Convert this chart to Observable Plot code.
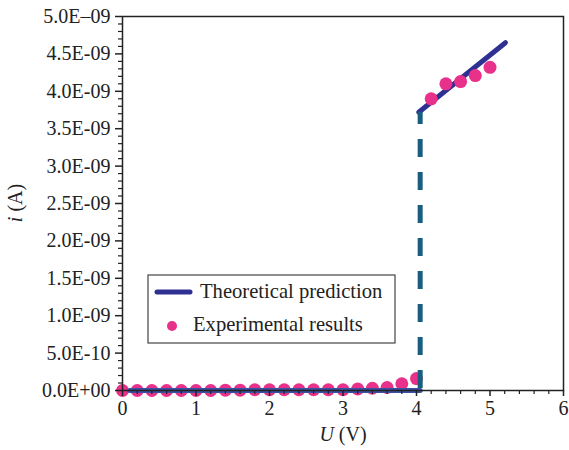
<!DOCTYPE html>
<html>
<head>
<meta charset="utf-8">
<script src="https://cdn.jsdelivr.net/npm/d3@7"></script>
<script src="https://cdn.jsdelivr.net/npm/@observablehq/plot@0.6"></script>
<style>
  html, body { margin: 0; padding: 0; background: #fff; }
  #chart { position: relative; width: 569px; height: 450px; }
</style>
</head>
<body>
<div id="chart"></div>
<script>
// Experimental results
const expU = [0, 0.2, 0.4, 0.6, 0.8, 1.0, 1.2, 1.4, 1.6, 1.8, 2.0, 2.2, 2.4, 2.6, 2.8, 3.0, 3.2, 3.4, 3.6, 3.8, 4.0, 4.2, 4.4, 4.6, 4.8, 5.0];
const expI = [0, 0, 0, 0, 0, 0, 0, 0.005e-9, 0.005e-9, 0.01e-9, 0.01e-9, 0.01e-9, 0.01e-9, 0.01e-9, 0.01e-9, 0.01e-9, 0.02e-9, 0.03e-9, 0.04e-9, 0.09e-9, 0.16e-9, 3.90e-9, 4.10e-9, 4.13e-9, 4.21e-9, 4.32e-9];

// Theoretical prediction (two branches + jump)
const theoryLowU = [0.1, 4.05];
const theoryLowI = [0, 0];
const theoryHighU = [4.03, 5.21];
const theoryHighI = [3.72e-9, 4.65e-9];
const jumpU = [4.05];
const jumpI = [0, 3.72e-9];

// Axes
const xTicks = [0, 1, 2, 3, 4, 5, 6];
const xMinor = [0.2,0.4,0.6,0.8,1.2,1.4,1.6,1.8,2.2,2.4,2.6,2.8,3.2,3.4,3.6,3.8,4.2,4.4,4.6,4.8,5.2,5.4,5.6,5.8];
const yTicks = [0, 0.5e-9, 1.0e-9, 1.5e-9, 2.0e-9, 2.5e-9, 3.0e-9, 3.5e-9, 4.0e-9, 4.5e-9, 5.0e-9];
const yTickLabels = ["0.0E+00", "5.0E-10", "1.0E-09", "1.5E-09", "2.0E-09", "2.5E-09", "3.0E-09", "3.5E-09", "4.0E-09", "4.5E-09", "5.0E\u201309"];
const yMinor = d3.range(1, 50).filter(k => k % 5 !== 0).map(k => k * 1e-10);

const legendLabels = ["Theoretical prediction", "Experimental results"];
const xLabel = ["U", " (V)"];
const yLabel = ["i", " (A)"];

const colLine = "#2e3192";
const colLow = "#3b4fa3";
const colDash = "#185e80";
const colDot = "#e8318a";

const expData = expU.map((u, k) => ({U: u, I: expI[k]}));
const lowData = theoryLowU.map((u, k) => ({U: u, I: theoryLowI[k]}));
const highData = theoryHighU.map((u, k) => ({U: u, I: theoryHighI[k]}));

const plot = Plot.plot({
  width: 569,
  height: 450,
  marginLeft: 122,
  marginRight: 6,
  marginTop: 16,
  marginBottom: 60,
  style: {fontFamily: "'Liberation Serif', serif", fontSize: "20px", color: "#222", background: "#fff"},
  x: {domain: [0, 6], label: null},
  y: {domain: [0, 5e-9], label: null},
  marks: [
    Plot.line(highData, {x: "U", y: "I", stroke: colLine, strokeWidth: 5, strokeLinecap: "round"}),
    Plot.dot(expData, {x: "U", y: "I", r: 6.5, fill: colDot, stroke: "none"}),
    Plot.line(lowData, {x: "U", y: "I", stroke: colLow, strokeWidth: 5}),
    Plot.ruleX(jumpU, {y1: jumpI[0], y2: jumpI[1], stroke: colDash, strokeWidth: 5, strokeDasharray: "18,15", strokeDashoffset: -2}),
    Plot.frame({stroke: "#222", strokeWidth: 1.5}),
    Plot.axisY({ticks: yTicks, tickSize: 7, tickPadding: 5, tickFormat: (d, k) => yTickLabels[k], label: null, stroke: "#222", strokeWidth: 1.5, fill: "#222"}),
    Plot.axisY({ticks: yMinor, tickSize: 4, tickFormat: () => "", label: null, stroke: "#222", strokeWidth: 1.2}),
    Plot.axisX({ticks: xTicks, tickSize: 6, tickPadding: 4, tickFormat: d => String(d), label: null, stroke: "#222", strokeWidth: 1.5, fill: "#222"}),
    Plot.axisX({ticks: xMinor, tickSize: 4, tickFormat: () => "", label: null, stroke: "#222", strokeWidth: 1.2})
  ]
});

document.getElementById("chart").appendChild(plot);

const svg = d3.select(plot);
const font = "'Liberation Serif', serif";

// Axis titles
const xt = svg.append("text").attr("x", 343).attr("y", 441).attr("text-anchor", "middle")
  .attr("font-family", font).attr("font-size", 20).attr("fill", "#222");
xt.append("tspan").attr("font-style", "italic").text(xLabel[0]);
xt.append("tspan").text(xLabel[1]);

const yt = svg.append("text").attr("transform", "translate(22,203) rotate(-90)").attr("text-anchor", "middle")
  .attr("font-family", font).attr("font-size", 20).attr("fill", "#222");
yt.append("tspan").attr("font-style", "italic").text(yLabel[0]);
yt.append("tspan").text(yLabel[1]);

// Legend
const lg = svg.append("g").attr("text-anchor", "start");
lg.append("rect").attr("x", 148).attr("y", 275).attr("width", 247).attr("height", 68)
  .attr("fill", "#fff").attr("stroke", "#444").attr("stroke-width", 1.2);
lg.append("line").attr("x1", 157).attr("x2", 190).attr("y1", 292).attr("y2", 292)
  .attr("stroke", colLine).attr("stroke-width", 5).attr("stroke-linecap", "round");
lg.append("text").attr("x", 200).attr("y", 298).attr("text-anchor", "start").attr("font-family", font).attr("font-size", 20.6)
  .attr("fill", "#222").text(legendLabels[0]);
lg.append("circle").attr("cx", 172).attr("cy", 326).attr("r", 5).attr("fill", colDot);
lg.append("text").attr("x", 193).attr("y", 331).attr("text-anchor", "start").attr("font-family", font).attr("font-size", 20.6)
  .attr("fill", "#222").text(legendLabels[1]);
</script>
</body>
</html>
